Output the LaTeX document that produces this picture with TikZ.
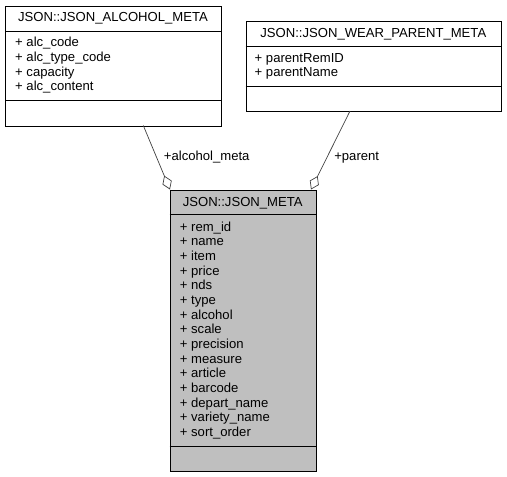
\documentclass[tikz,border=0pt]{standalone}
\usepackage{fontspec}
\setmainfont{Liberation Sans}
\usetikzlibrary{arrows.meta}
\begin{document}
\begin{tikzpicture}[x=1pt,y=-1pt,
  box/.style={draw=black,line width=0.9pt,fill=white,rectangle,inner sep=0pt,anchor=north west},
  grey/.style={fill=black!25},
  txt/.style={anchor=base west,inner sep=0pt,font=\fontsize{13.1}{14}\selectfont},
  ttl/.style={anchor=base,inner sep=0pt,font=\fontsize{13.1}{14}\selectfont},
  lbl/.style={anchor=base,inner sep=0pt,font=\fontsize{13.1}{14}\selectfont},
  edge/.style={draw=black!75,line width=0.7pt},
  agg/.style={{Diamond[open,length=15pt,width=10pt,line width=0.7pt]}-}]
\useasboundingbox (0,0) rectangle (507,477);
% ALCOHOL box
\node[box,minimum width=216pt,minimum height=120pt] (alc) at (5,5.5) {};
\draw[line width=0.9pt] (5,31) -- (221,31) (5,100) -- (221,100);
\node[ttl] (alct) at (113,21.7) {JSON::JSON\_ALCOHOL\_META};
\foreach \t [count=\i from 0] in {alc\_code,alc\_type\_code,capacity,alc\_content}
  \node[txt] (alc\i) at (15,46.7+14.67*\i) {+ \t};
% PARENT box
\node[box,minimum width=255.5pt,minimum height=90.5pt] (par) at (245.5,20.5) {};
\draw[line width=0.9pt] (245.5,46) -- (501,46) (245.5,86) -- (501,86);
\node[ttl] (part) at (373.3,37.3) {JSON::JSON\_WEAR\_PARENT\_META};
\foreach \t [count=\i from 0] in {parentRemID,parentName}
  \node[txt] (par\i) at (254.5,62.3+14.4*\i) {+ \t};
% MAIN box
\node[box,grey,minimum width=146pt,minimum height=281pt] (main) at (169.7,190) {};
\draw[line width=0.9pt] (169.7,214) -- (315.7,214) (169.7,446) -- (315.7,446);
\node[ttl] (maint) at (242.7,206.7) {JSON::JSON\_META};
\foreach \t [count=\i from 0] in {rem\_id,name,item,price,nds,type,alcohol,scale,precision,measure,article,barcode,depart\_name,variety\_name,sort\_order}
  \node[txt] (m\i) at (179.7,231+14.69*\i) {+ \t};
% connectors
\coordinate (ca) at (143.3,125.5);
\coordinate (ma) at (170,189.5);
\coordinate (cp) at (350,111);
\coordinate (mp) at (311,189.5);
\draw[edge,agg] (ma) -- (ca);
\draw[edge,agg] (mp) -- (cp);
\node[lbl] (la) at (206.7,160.7) {+alcohol\_meta};
\node[lbl] (lp) at (356.7,160.7) {+parent};
\end{tikzpicture}
\end{document}
